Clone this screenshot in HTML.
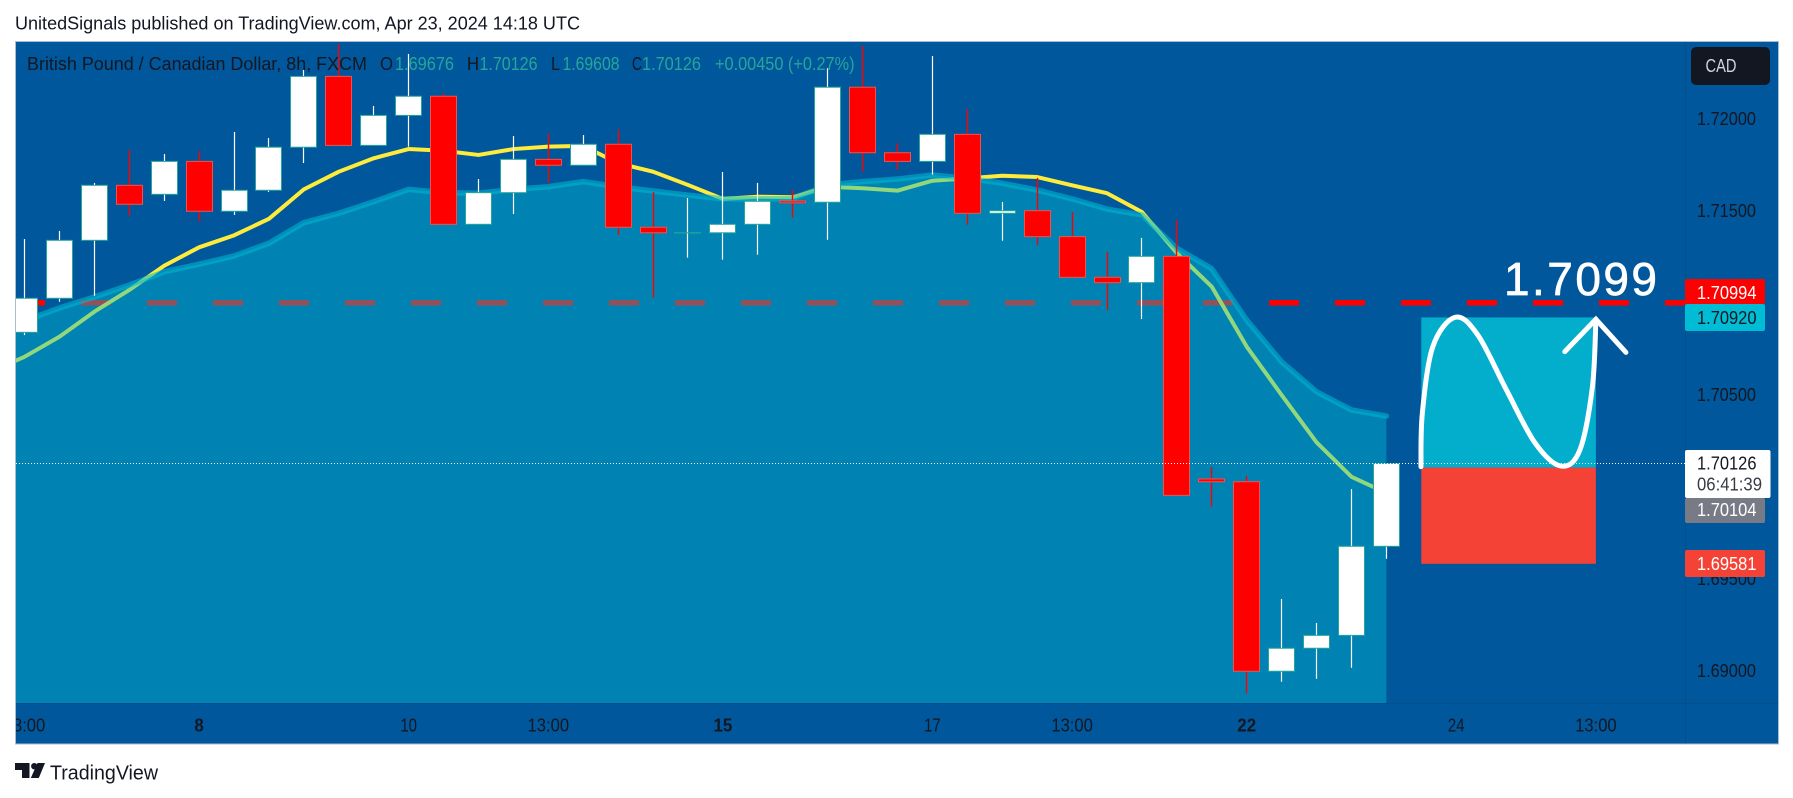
<!DOCTYPE html>
<html lang="en">
<head>
<meta charset="utf-8">
<title>GBPCAD chart</title>
<style>
html,body{margin:0;padding:0;background:#fff;width:1793px;height:798px;overflow:hidden}
svg{display:block;font-family:"Liberation Sans",sans-serif}
</style>
</head>
<body>
<svg id="chart" xmlns="http://www.w3.org/2000/svg" width="1793" height="798" viewBox="0 0 1793 798">
  <defs>
    <clipPath id="pane"><rect x="16" y="42" width="1669" height="661"/></clipPath>
    <clipPath id="timeclip"><rect x="16" y="703" width="1669" height="41"/></clipPath>
  </defs>
  <rect x="15.5" y="41.5" width="1763" height="702.5" fill="#01579B" stroke="#a9bdd2" stroke-width="1"/>
  <text x="15" y="29.5" font-size="18" fill="#131722" textLength="565" lengthAdjust="spacingAndGlyphs">UnitedSignals published on TradingView.com, Apr 23, 2024 14:18 UTC</text>
  <g id="under" clip-path="url(#pane)"></g>
  <g id="areaLayer" clip-path="url(#pane)"></g>
  <g id="candles" clip-path="url(#pane)"></g>
  <g id="drawing"></g>
  <line x1="1685.5" y1="42" x2="1685.5" y2="744" stroke="#131722" stroke-opacity="0.12"/>
  <line x1="16" y1="703.5" x2="1778" y2="703.5" stroke="#131722" stroke-opacity="0.12"/>
  <g id="priceAxis"></g>
  <g id="timeAxis" clip-path="url(#timeclip)"></g>

  <g font-size="18">
    <text x="27" y="70" fill="#131722" textLength="340" lengthAdjust="spacingAndGlyphs">British Pound / Canadian Dollar, 8h, FXCM</text>
    <text x="380" y="70" fill="#131722" textLength="13" lengthAdjust="spacingAndGlyphs">O</text>
    <text x="395" y="70" fill="#26A69A" textLength="59" lengthAdjust="spacingAndGlyphs">1.69676</text>
    <text x="467" y="70" fill="#131722" textLength="12" lengthAdjust="spacingAndGlyphs">H</text>
    <text x="479.5" y="70" fill="#26A69A" textLength="58" lengthAdjust="spacingAndGlyphs">1.70126</text>
    <text x="551" y="70" fill="#131722" textLength="9" lengthAdjust="spacingAndGlyphs">L</text>
    <text x="562.5" y="70" fill="#26A69A" textLength="57" lengthAdjust="spacingAndGlyphs">1.69608</text>
    <text x="632" y="70" fill="#131722" textLength="10" lengthAdjust="spacingAndGlyphs">C</text>
    <text x="642" y="70" fill="#26A69A" textLength="59" lengthAdjust="spacingAndGlyphs">1.70126</text>
    <text x="715" y="70" fill="#26A69A" textLength="139.5" lengthAdjust="spacingAndGlyphs">+0.00450 (+0.27%)</text>
  </g>

  <g>
    <rect x="1691" y="47" width="79" height="38" rx="5" fill="#131722"/>
    <text x="1705.5" y="72" font-size="18" fill="#D1D4DC" textLength="31" lengthAdjust="spacingAndGlyphs">CAD</text>
  </g>

  <text x="1504" y="295" font-size="46" fill="#FFFFFF" stroke="#FFFFFF" stroke-width="0.7" textLength="153" lengthAdjust="spacing">1.7099</text>

  <g font-size="18">
    <rect x="1685" y="279" width="80" height="25" rx="2" fill="#FF0000"/>
    <text x="1697" y="299" fill="#FFFFFF" textLength="59.5" lengthAdjust="spacingAndGlyphs">1.70994</text>
    <rect x="1685" y="304" width="80" height="27" rx="2" fill="#00BCD4"/>
    <text x="1697" y="324" fill="#131722" textLength="59.5" lengthAdjust="spacingAndGlyphs">1.70920</text>
    <rect x="1685" y="498" width="80" height="25" rx="2" fill="#787B86"/>
    <text x="1697" y="516" fill="#FFFFFF" textLength="59.5" lengthAdjust="spacingAndGlyphs">1.70104</text>
    <rect x="1685" y="450" width="85.5" height="48" rx="2" fill="#FFFFFF"/>
    <text x="1697" y="469.7" fill="#131722" textLength="59.5" lengthAdjust="spacingAndGlyphs">1.70126</text>
    <text x="1697" y="490.7" fill="#131722" fill-opacity="0.85" textLength="65" lengthAdjust="spacingAndGlyphs">06:41:39</text>
    <rect x="1685" y="550" width="80" height="27" rx="2" fill="#F44336"/>
    <text x="1697" y="570" fill="#FFFFFF" textLength="59.5" lengthAdjust="spacingAndGlyphs">1.69581</text>
  </g>

  <g>
    <path fill="#131722" d="M15 763h14.5v15h-7.5v-8h-7z"/>
    <circle cx="34.3" cy="766.2" r="3.2" fill="#131722"/>
    <path fill="#131722" d="M37.5 763h7.5l-6.2 15h-8z"/>
    <text x="50" y="779.5" font-size="20" fill="#131722" textLength="108" lengthAdjust="spacingAndGlyphs">TradingView</text>
  </g>
</svg>

<script>
// ---- chart data ----
const opens  = [1.70839,1.71024,1.71339,1.71638,1.71589,1.71768,1.71497,1.71611,1.71845,1.72230,1.71855,1.72018,1.72122,1.71426,1.71598,1.71779,1.71747,1.71861,1.71410,1.71380,1.71380,1.71426,1.71553,1.71546,1.72171,1.71815,1.71768,1.71915,1.71486,1.71500,1.71359,1.71138,1.71109,1.71252,1.70042,1.70027,1.68997,1.69122,1.69192,1.69676];
const highs  = [1.71346,1.71390,1.71651,1.71830,1.71808,1.71824,1.71928,1.71895,1.72265,1.72406,1.72069,1.72352,1.72138,1.71672,1.71906,1.71917,1.71911,1.71942,1.71602,1.71569,1.71710,1.71651,1.71612,1.72274,1.72395,1.71866,1.72341,1.72051,1.71547,1.71678,1.71493,1.71276,1.71352,1.71449,1.70107,1.70058,1.69390,1.69259,1.69987,1.70126];
const lows   = [1.70824,1.71005,1.71038,1.71473,1.71553,1.71440,1.71477,1.71602,1.71759,1.71855,1.71855,1.71848,1.71426,1.71426,1.71482,1.71651,1.71747,1.71368,1.71027,1.71245,1.71234,1.71261,1.71462,1.71342,1.71712,1.71725,1.71696,1.71424,1.71337,1.71314,1.71138,1.70960,1.70911,1.69953,1.69891,1.68877,1.68940,1.68956,1.69016,1.69608];
const closes = [1.71024,1.71339,1.71638,1.71535,1.71768,1.71497,1.71611,1.71845,1.72230,1.71855,1.72018,1.72122,1.71426,1.71598,1.71779,1.71747,1.71861,1.71410,1.71380,1.71380,1.71426,1.71551,1.71543,1.72171,1.71815,1.71768,1.71915,1.71486,1.71500,1.71359,1.71138,1.71109,1.71252,1.69953,1.70027,1.68997,1.69122,1.69192,1.69676,1.70126];
// moving averages start one bar before the first visible candle
const fastMA = [1.70623,1.70706,1.70815,1.70951,1.71069,1.71201,1.71301,1.71366,1.71456,1.71616,1.71712,1.71785,1.71835,1.71826,1.71803,1.71835,1.71848,1.71852,1.71758,1.71712,1.71640,1.71564,1.71576,1.71573,1.71630,1.71622,1.71609,1.71663,1.71676,1.71690,1.71683,1.71638,1.71595,1.71493,1.71270,1.71087,1.70761,1.70498,1.70241,1.70054,1.69966];
const slowMA = [1.70873,1.70902,1.70971,1.71031,1.71096,1.71168,1.71209,1.71254,1.71323,1.71435,1.71486,1.71549,1.71616,1.71598,1.71595,1.71616,1.71630,1.71658,1.71630,1.71607,1.71585,1.71564,1.71564,1.71565,1.71640,1.71658,1.71672,1.71694,1.71676,1.71649,1.71612,1.71564,1.71509,1.71477,1.71296,1.71185,1.70906,1.70679,1.70516,1.70417,1.70384];
const priceTicks = [1.72000,1.71500,1.71000,1.70500,1.69500,1.69000];
const timeLabels = ["13:00","8","10","13:00","15","17","13:00","22","24","13:00"];
const timeBars   = [0,5,11,15,20,26,30,35,41,45];
const boldTimeLabels = ["8","15","22"];
const resistancePrice = 1.71000;
const lastPrice  = 1.70126;
const targetPrice = 1.70920;
const entryPrice = 1.70104;
const stopPrice  = 1.69581;
const tradeStartBar = 40;
const tradeEndBar = 45;
const curveBars   = [39.99,40.03,40.33,40.97,41.62,42.44,43.26,44.00,44.54,44.90,45.00];
const curvePrices = [1.70109,1.70400,1.70761,1.70921,1.70824,1.70525,1.70237,1.70112,1.70199,1.70543,1.70910];
const arrowBars   = [44.11,45.00,45.86];
const arrowPrices = [1.70734,1.70910,1.70730];

// ---- axis functions ----
function xAt(bar){ return 24.5 + 34.92 * bar; }
function yAt(price){ return 118.7 + (1.72 - price) * 18400; }
const paneBottom = 703;
const paneLeft = 16;
const paneRight = 1685;
const bodyWidth = 26;

const NS = "http://www.w3.org/2000/svg";
function make(tag, attrs, parent){
  const el = document.createElementNS(NS, tag);
  for (const k in attrs) el.setAttribute(k, attrs[k]);
  parent.appendChild(el);
  return el;
}
function polyline(values){
  return values.map(function(v, i){ return (i ? "L" : "M") + xAt(i - 1).toFixed(2) + " " + yAt(v).toFixed(2); }).join(" ");
}

const under = document.getElementById("under");
const areaLayer = document.getElementById("areaLayer");
const candleLayer = document.getElementById("candles");
const drawing = document.getElementById("drawing");
const priceAxis = document.getElementById("priceAxis");
const timeAxis = document.getElementById("timeAxis");

// lines below the translucent area
const resistance = make("line", {x1: paneLeft - 1, x2: paneRight, y1: yAt(resistancePrice), y2: yAt(resistancePrice), stroke: "#FF0000", "stroke-width": 5.5, "stroke-dasharray": "30 36"}, under);



const fastLine = make("path", {d: polyline(fastMA), fill: "none", stroke: "#FFEB3B", "stroke-width": 4, "stroke-linejoin": "round"}, under);



// translucent area
const lastBar = slowMA.length - 2;
const areaPath = make("path", {d: polyline(slowMA) + " L" + xAt(lastBar) + " " + paneBottom + " L" + xAt(-1) + " " + paneBottom + " Z", fill: "#00BCD4", "fill-opacity": 0.43, stroke: "none"}, areaLayer);



const slowLine = make("path", {d: polyline(slowMA), fill: "none", stroke: "#00BCD4", "stroke-opacity": 0.55, "stroke-width": 5.5, "stroke-linecap": "round", "stroke-linejoin": "round"}, areaLayer);



const lastLine = make("line", {x1: paneLeft, x2: paneRight, y1: yAt(lastPrice), y2: yAt(lastPrice), stroke: "#FFFFFF", "stroke-width": 1, "stroke-dasharray": "1 2"}, drawing);



// candles
opens.forEach(function(open, i){
  const close = closes[i];
  const up = close >= open;
  const cx = Math.floor(xAt(i)) + 0.5;
  const g = make("g", {}, candleLayer);
  
  
  const wick = make("line", {x1: cx, x2: cx, y1: yAt(highs[i]), y2: yAt(lows[i]), stroke: up ? "#FFFFFF" : "#FF0000", "stroke-width": up ? 1.2 : 1.4}, g);
  
  
  const top = yAt(Math.max(open, close));
  const bottom = yAt(Math.min(open, close));
  const body = make("rect", {x: cx - bodyWidth / 2, y: top, width: bodyWidth, height: Math.max(bottom - top, 0.2), fill: up ? "#FFFFFF" : "#FF0000", stroke: up ? "#26A69A" : "#EF5350", "stroke-width": 1}, g);
  
  
});

// trade box and hand-drawn path
const targetBox = make("rect", {x: xAt(tradeStartBar), y: yAt(targetPrice), width: xAt(tradeEndBar) - xAt(tradeStartBar), height: yAt(entryPrice) - yAt(targetPrice), fill: "#02AECC"}, drawing);


const stopBox = make("rect", {x: xAt(tradeStartBar), y: yAt(entryPrice), width: xAt(tradeEndBar) - xAt(tradeStartBar), height: yAt(stopPrice) - yAt(entryPrice), fill: "#F44336"}, drawing);


drawing.appendChild(lastLine);

const pts = curveBars.map(function(b, i){ return [xAt(b), yAt(curvePrices[i])]; });
let curveD = "M" + pts[0][0] + " " + pts[0][1];
for (let i = 0; i < pts.length - 1; i++){
  const p0 = pts[Math.max(i - 1, 0)], p1 = pts[i], p2 = pts[i + 1], p3 = pts[Math.min(i + 2, pts.length - 1)];
  curveD += " C" + (p1[0] + (p2[0] - p0[0]) / 6).toFixed(2) + " " + (p1[1] + (p2[1] - p0[1]) / 6).toFixed(2) + " " +
            (p2[0] - (p3[0] - p1[0]) / 6).toFixed(2) + " " + (p2[1] - (p3[1] - p1[1]) / 6).toFixed(2) + " " +
            p2[0].toFixed(2) + " " + p2[1].toFixed(2);
}
const curve = make("path", {d: curveD, fill: "none", stroke: "#FFFFFF", "stroke-width": 5, "stroke-linecap": "round", "stroke-linejoin": "round"}, drawing);



const arrowD = arrowBars.map(function(b, i){ return (i ? "L" : "M") + xAt(b).toFixed(2) + " " + yAt(arrowPrices[i]).toFixed(2); }).join(" ");
const arrow = make("path", {d: arrowD, fill: "none", stroke: "#FFFFFF", "stroke-width": 5, "stroke-linecap": "round", "stroke-linejoin": "miter"}, drawing);



// axes
priceTicks.forEach(function(p){
  const t = make("text", {x: 1697, y: yAt(p) + 6.5, "font-size": 18, fill: "#131722", textLength: 59, lengthAdjust: "spacingAndGlyphs"}, priceAxis);
  
  
  t.textContent = p.toFixed(5);
});
timeLabels.forEach(function(label, i){
  const isBold = boldTimeLabels.indexOf(label) >= 0;
  const t = make("text", {x: xAt(timeBars[i]), y: 731.5, "font-size": 18, fill: "#131722", "text-anchor": "middle", "font-weight": isBold ? "bold" : "normal", textLength: label.length * (isBold ? 9.4 : 8.3), lengthAdjust: "spacingAndGlyphs"}, timeAxis);
  
  
  t.textContent = label;
});
</script>
</body>
</html>
